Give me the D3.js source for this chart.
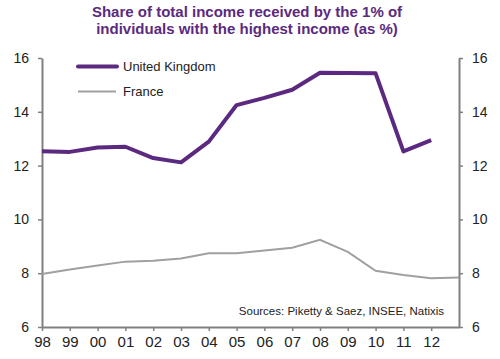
<!DOCTYPE html>
<html><head><meta charset="utf-8">
<script src="https://cdn.jsdelivr.net/npm/d3@7"></script>
<style>body{margin:0;background:#fff}svg{display:block}text{font-family:"Liberation Sans",Arial,sans-serif}</style>
</head><body>
<script>
const years = ["98","99","00","01","02","03","04","05","06","07","08","09","10","11","12","13"];
const tickLabels = ["98","99","00","01","02","03","04","05","06","07","08","09","10","11","12"];
const ukYears = ["98","99","00","01","02","03","04","05","06","07","08","09","10","11","12"];
const ukValues = [12.53,12.51,12.67,12.70,12.28,12.12,12.89,14.25,14.52,14.82,15.45,15.44,15.43,12.53,12.95];
const frYears = ["98","99","00","01","02","03","04","05","06","07","08","09","10","11","12","13"];
const frValues = [7.97,8.14,8.29,8.43,8.46,8.55,8.74,8.74,8.84,8.95,9.24,8.79,8.09,7.93,7.81,7.84];
const yTicks = [6,8,10,12,14,16];

const W=500,H=359;
const svg=d3.select("body").append("svg").attr("width",W).attr("height",H);
const x=d3.scalePoint().domain(years).range([42,459]);
const y=d3.scaleLinear().domain([6,16]).range([327,58]);
const axisCol="#808080";

svg.append("text").attr("x",247).attr("y",17).attr("text-anchor","middle")
  .attr("font-size",15).attr("font-weight","bold").attr("fill","#5b2a80")
  .text("Share of total income received by the 1% of");
svg.append("text").attr("x",247).attr("y",34).attr("text-anchor","middle")
  .attr("font-size",15).attr("font-weight","bold").attr("fill","#5b2a80")
  .text("individuals with the highest income (as %)");

function styleAxis(g,size){
  g.selectAll(".domain").attr("stroke",axisCol).attr("stroke-width",2);
  g.selectAll(".tick line").attr("stroke",axisCol).attr("stroke-width",1.5);
  g.selectAll(".tick text").attr("fill","#222").attr("font-size",size).attr("font-family","Liberation Sans, Arial, sans-serif");
}
const gl=svg.append("g").attr("transform","translate(42,0)")
  .call(d3.axisLeft(y).tickValues(yTicks).tickSize(4).tickSizeOuter(0).tickPadding(9));
styleAxis(gl,14);
const gr=svg.append("g").attr("transform","translate(459,0)")
  .call(d3.axisRight(y).tickValues(yTicks).tickSize(4).tickSizeOuter(0).tickPadding(9));
styleAxis(gr,14);
const gx=svg.append("g").attr("transform","translate(0,327)")
  .call(d3.axisBottom(x).tickValues(tickLabels).tickSize(4).tickSizeOuter(0).tickPadding(5));
styleAxis(gx,15);

const line=d3.line().x(d=>x(d[0])).y(d=>y(d[1]));
svg.append("path").datum(frYears.map((k,i)=>[k,frValues[i]]))
  .attr("d",line).attr("fill","none").attr("stroke","#a0a0a0").attr("stroke-width",2);
svg.append("path").datum(ukYears.map((k,i)=>[k,ukValues[i]]))
  .attr("d",line).attr("fill","none").attr("stroke","#5b2a80").attr("stroke-width",4).attr("stroke-linejoin","round");

// legend
svg.append("line").attr("x1",78).attr("x2",117).attr("y1",66.5).attr("y2",66.5).attr("stroke","#5b2a80").attr("stroke-width",4).attr("stroke-linecap","round");
svg.append("text").attr("x",123).attr("y",71).attr("font-size",13).attr("fill","#222").text("United Kingdom");
svg.append("line").attr("x1",78).attr("x2",116).attr("y1",91.5).attr("y2",91.5).attr("stroke","#a0a0a0").attr("stroke-width",2);
svg.append("text").attr("x",123).attr("y",96).attr("font-size",13).attr("fill","#222").text("France");

svg.append("text").attr("x",444).attr("y",315).attr("text-anchor","end").attr("font-size",11.5).attr("fill","#222")
  .text("Sources: Piketty & Saez, INSEE, Natixis");
</script>
</body></html>
